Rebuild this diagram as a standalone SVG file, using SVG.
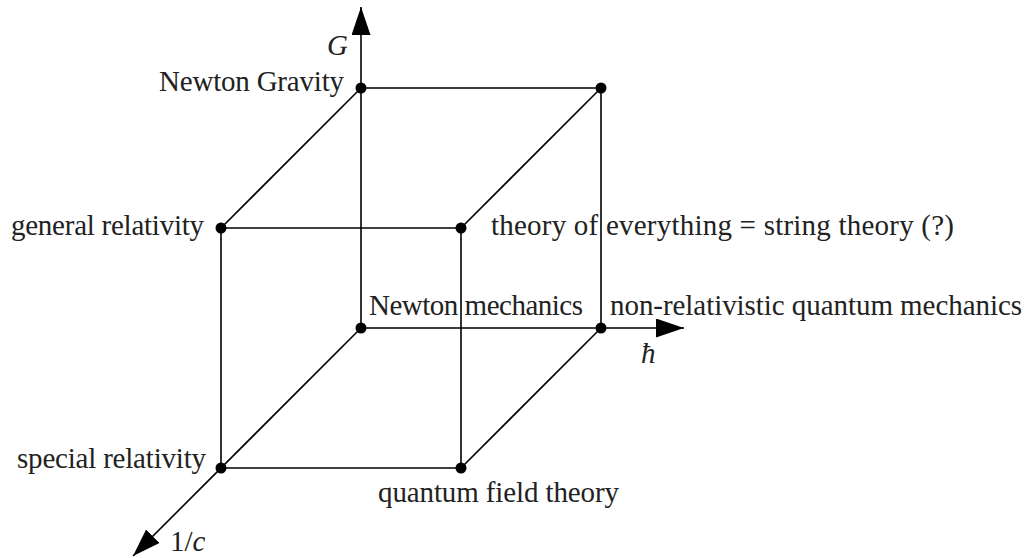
<svg xmlns="http://www.w3.org/2000/svg" width="1026" height="558" viewBox="0 0 1026 558">
<style>
.e{stroke:#000;stroke-width:1.6;fill:none}
.t{font-family:"Liberation Serif","DejaVu Serif",serif;font-size:29px;fill:#222}
.i{font-style:italic}
.d{fill:#000}
</style>
<defs>
<marker id="ar" markerUnits="userSpaceOnUse" markerWidth="30" markerHeight="20" refX="28" refY="9.5" orient="auto">
<path d="M0,0 L28,9.5 L0,19 Z" fill="#000"/>
</marker>
</defs>
<g id="connectors">
<line class="e" x1="361" y1="328" x2="361" y2="7" marker-end="url(#ar)"/>
<line class="e" x1="361" y1="328" x2="684" y2="328" marker-end="url(#ar)"/>
<line class="e" x1="361" y1="328" x2="133" y2="556" marker-end="url(#ar)"/>
<line class="e" x1="361" y1="88" x2="601" y2="88"/>
<line class="e" x1="601" y1="88" x2="601" y2="328"/>
<line class="e" x1="361" y1="88" x2="221" y2="228"/>
<line class="e" x1="601" y1="88" x2="461" y2="228"/>
<line class="e" x1="601" y1="328" x2="461" y2="468"/>
<line class="e" x1="221" y1="228" x2="461" y2="228"/>
<line class="e" x1="221" y1="228" x2="221" y2="468"/>
<line class="e" x1="461" y1="228" x2="461" y2="468"/>
<line class="e" x1="221" y1="468" x2="461" y2="468"/>
</g>
<g id="newton-mechanics"><circle class="d" cx="361" cy="328" r="5.5"/><text class="t" x="369" y="315" textLength="214">Newton mechanics</text></g>
<g id="newton-gravity"><circle class="d" cx="361" cy="88" r="5.5"/><text class="t" x="159" y="91" textLength="185">Newton Gravity</text></g>
<g id="top-back"><circle class="d" cx="601" cy="88" r="5.5"/></g>
<g id="nonrel-qm"><circle class="d" cx="601" cy="328" r="5.5"/><text class="t" x="610" y="315" textLength="412">non-relativistic quantum mechanics</text></g>
<g id="general-relativity"><circle class="d" cx="221" cy="228" r="5.5"/><text class="t" x="11" y="235" textLength="193">general relativity</text></g>
<g id="theory-of-everything"><circle class="d" cx="461" cy="228" r="5.5"/><text class="t" x="491" y="235" textLength="463">theory of everything = string theory (?)</text></g>
<g id="special-relativity"><circle class="d" cx="221" cy="468" r="5.5"/><text class="t" x="17" y="468" textLength="189">special relativity</text></g>
<g id="qft"><circle class="d" cx="461" cy="468" r="5.5"/><text class="t" x="378" y="502" textLength="241">quantum field theory</text></g>
<g id="axis-labels">
<text class="t i" x="327" y="55">G</text>
<text class="t i" x="641" y="363">ħ</text>
<text class="t" x="170" y="551">1/<tspan class="i">c</tspan></text>
</g>
</svg>
